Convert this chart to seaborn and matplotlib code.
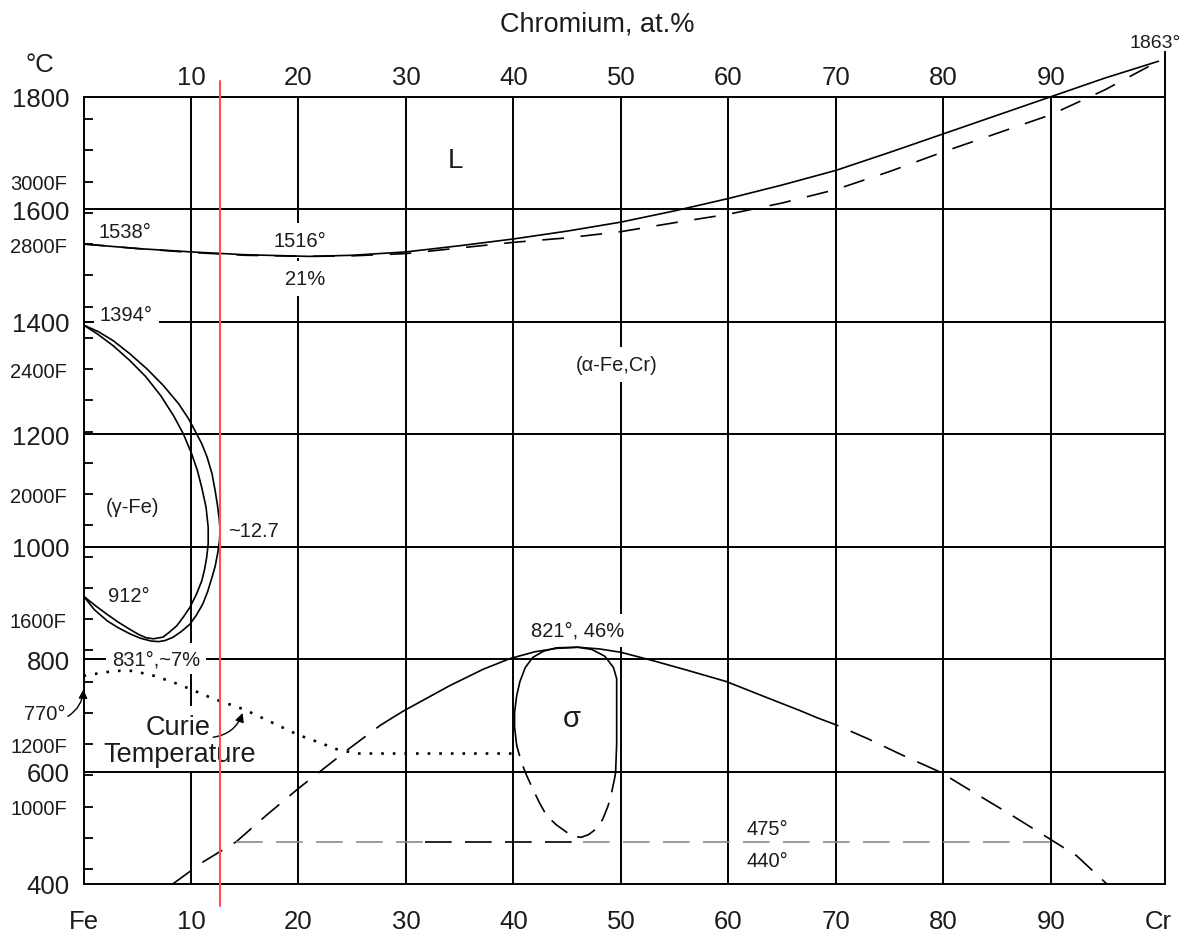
import matplotlib
matplotlib.use("Agg")
import matplotlib.pyplot as plt
import seaborn as sns

# ---------------------------------------------------------------
# Fe–Cr equilibrium diagram: boundary curves as (at.% Cr, °C)
# ---------------------------------------------------------------
liquidus_cr = [0, 5, 10, 15, 21, 25, 30, 35, 40, 45, 50, 55, 60, 65, 70, 75, 80, 85, 90, 95, 100]
liquidus_t = [1538, 1530, 1524, 1519, 1516, 1518, 1524, 1535, 1547, 1561, 1577, 1597, 1619, 1643,
              1669, 1701, 1734, 1767, 1800, 1833, 1863]

solidus_cr = [0, 5, 10, 15, 21, 25, 30, 35, 40, 45, 50, 55, 60, 65, 70, 75, 80, 85, 90, 95, 100]
solidus_t = [1538, 1530, 1523, 1518, 1516, 1517, 1521, 1531, 1541, 1549, 1560, 1576, 1591, 1611,
             1635, 1667, 1702, 1735, 1768, 1812, 1863]

# gamma loop: (gamma+alpha)/alpha boundary and gamma/(gamma+alpha) boundary
loop_outer_cr = [0, 1.4, 2.77, 4.3, 5.9, 7.4, 8.85, 9.75, 10.4, 11.0, 11.5, 11.95, 12.25, 12.45,
                 12.62, 12.7, 12.65, 12.5, 12.25, 11.95, 11.55, 11.1, 10.5, 9.9, 9.1, 8.35, 7.6,
                 7.0, 6.3, 5.3, 4.3, 3.2, 2.2, 1.0, 0]
loop_outer_t = [1394, 1382, 1366, 1343, 1316, 1287, 1254, 1228, 1205, 1183, 1159, 1130, 1099, 1075,
                1050, 1030, 1010, 990, 965, 945, 920, 898, 878, 862, 849, 839, 833,
                831, 832, 837, 845, 856, 868, 888, 912]

loop_inner_cr = [0, 1.3, 2.77, 4.3, 5.8, 7.2, 8.4, 9.3, 10.06, 10.6, 11.0, 11.4, 11.6, 11.6,
                 11.46, 11.27, 11.0, 10.5, 9.9, 9.3, 8.67, 8.0, 7.4, 6.5, 5.8, 5.1, 4.3, 3.2,
                 2.16, 1.1, 0]
loop_inner_t = [1394, 1378, 1357, 1331, 1302, 1268, 1232, 1200, 1165, 1135, 1105, 1070, 1034, 1005,
                981, 960, 939, 915, 892, 875, 859, 848, 839, 836, 838, 844, 853, 866,
                880, 895, 912]

# Curie temperature
curie_cr = [0, 1.5, 3.0, 4.6, 6.6, 8.3, 9.9, 12.0, 15.0, 18.0, 20.0, 22.3, 23.5, 25.4, 30.0, 35.0, 40.5]
curie_t = [770, 775, 779, 779, 770, 759, 747, 730, 710, 683, 665, 649, 640, 632, 632, 632, 632]

# alpha / (alpha + sigma) and alpha + alpha' dome
dome_left_cr = [8.3, 11.1, 14.2, 17.0, 20.0, 22.0, 24.8, 27.6, 28.6]
dome_left_t = [400, 439, 475, 522, 570, 600, 642, 682, 694]
dome_top_cr = [28.6, 29.8, 34.1, 37.2, 39.7, 42.0, 44.0, 46.0, 48.0, 50.0, 53.0, 56.0, 59.8, 63.5, 66.7, 68.2]
dome_top_t = [694, 708, 753, 782, 801, 813, 819, 821, 818, 812, 797, 781, 760, 732, 708, 696]
dome_right_cr = [68.2, 70.0, 73.0, 76.3, 79.7, 82.8, 86.2, 89.9, 92.4, 95.2]
dome_right_t = [696, 683, 658, 628, 599, 563, 524, 480, 450, 400]

# sigma phase field
sigma_solid_cr = [40.3, 40.1, 40.1, 40.3, 40.6, 41.1, 41.8, 42.8, 44.0, 46.0, 47.3, 48.5, 49.3,
                  49.6, 49.6, 49.6, 49.6, 49.5]
sigma_solid_t = [646, 680, 705, 735, 760, 785, 803, 814, 820, 821, 817, 805, 785, 765, 740, 700, 650, 598]
sigma_dash_cr = [49.5, 49.4, 49.1, 48.8, 48.3, 47.7, 47.0, 46.3, 45.5, 44.95, 44.0, 43.1, 42.4,
                 41.8, 41.2, 40.75, 40.3]
sigma_dash_t = [598, 587, 560, 539, 515, 498, 488, 483, 485, 492, 505, 521, 545, 569, 594, 616, 646]

# 475 °C embrittlement isotherm
iso475_t = 475
iso475_cr = [14.2, 90.2]

# marked composition
marker_cr = 12.7

# axes ticks
x_ticks = [0, 10, 20, 30, 40, 50, 60, 70, 80, 90, 100]
x_labels = ["Fe", "10", "20", "30", "40", "50", "60", "70", "80", "90", "Cr"]
c_ticks = [400, 600, 800, 1000, 1200, 1400, 1600, 1800]
f_ticks = list(range(800, 3201, 100))
f_labelled = [1000, 1200, 1600, 2000, 2400, 2800, 3000]

# ---------------------------------------------------------------
sns.set_theme(style="white")
plt.rcParams["font.family"] = ["Liberation Sans", "DejaVu Sans"]

INK = "#1c1c1c"
fig = plt.figure(figsize=(11.87, 9.37), dpi=100)
ax = fig.add_axes([0.070346, 0.05550, 0.91104, 0.88826])
ax.set_xlim(0, 100.6)
ax.set_ylim(400, 1880)

GRID_LW = 1.4
LINE_LW = 1.2

# grid
ax.vlines(x_ticks[1:-1], 400, 1800, color="black", lw=GRID_LW, zorder=1)
ax.hlines(c_ticks[1:], 0, 100.6, color="black", lw=GRID_LW, zorder=1)

for side in ["left", "right", "bottom"]:
    ax.spines[side].set_color("black")
    ax.spines[side].set_linewidth(GRID_LW)
ax.spines["top"].set_visible(False)
ax.spines["left"].set_bounds(400, 1800)


def boundary(xs, ts, ls="-", color="black", lw=LINE_LW, z=3):
    sns.lineplot(x=xs, y=ts, ax=ax, sort=False, estimator=None, color=color,
                 linewidth=lw, linestyle=ls, zorder=z, legend=False)


long_dash = (0, (14, 8))
boundary(liquidus_cr, liquidus_t)
boundary(solidus_cr, solidus_t, ls=(0, (13, 10)))
boundary(loop_outer_cr, loop_outer_t)
boundary(loop_inner_cr, loop_inner_t)
boundary(curie_cr, curie_t, ls=(0, (1, 3.4)), lw=1.9)
boundary(dome_left_cr, dome_left_t, ls=long_dash)
boundary(dome_top_cr, dome_top_t)
boundary(dome_right_cr, dome_right_t, ls=long_dash)
boundary(sigma_solid_cr, sigma_solid_t)
boundary(sigma_dash_cr, sigma_dash_t, ls=(0, (12, 6.5)))

# 475 °C line: grey ends, dark middle
iso_dash = (0, (16, 8))
boundary([iso475_cr[0], 31.8], [iso475_t, iso475_t], ls=iso_dash, color="#8a8a8a")
boundary([31.8, 46.5], [iso475_t, iso475_t], ls=iso_dash, color="black")
boundary([46.5, iso475_cr[1]], [iso475_t, iso475_t], ls=iso_dash, color="#8a8a8a")

# marked composition
ax.plot([marker_cr, marker_cr], [361, 1828], color="#ff4f4f", lw=1.5, zorder=6, clip_on=False)

# ticks and tick labels
ax.set_xticks(x_ticks, x_labels)
ax.tick_params(axis="x", which="major", length=0, pad=18, labelsize=18.5, labelcolor=INK)
ax.set_yticks(c_ticks, [str(v) for v in c_ticks])
ax.tick_params(axis="y", which="major", length=0, pad=10, labelsize=18.5, labelcolor=INK)
f_pos = [(f - 32) * 5 / 9 for f in f_ticks]
ax.set_yticks(f_pos, [f"{f}F" if f in f_labelled else "" for f in f_ticks], minor=True)
ax.tick_params(axis="y", which="minor", left=True, direction="in", length=6.5, width=1.3,
               color="black", pad=12, labelsize=14.5, labelcolor=INK)

# top composition scale
for v in x_ticks[1:-1]:
    ax.text(v, 1822.6, str(v), ha="center", va="baseline", fontsize=18.5, color=INK)
ax.text(47.8, 1917, "Chromium, at.%", ha="center", va="baseline", fontsize=19.5, color=INK)
ax.text(-4.05, 1845.7, "°C", ha="center", va="baseline", fontsize=18.5, color=INK)

white = dict(boxstyle="square,pad=0.3", fc="white", ec="none")
small = 14.5


def label(x, t, s, size=small, ha="center", box=None):
    ax.text(x, t, s, ha=ha, va="baseline", fontsize=size, color=INK, bbox=box, zorder=2)


label(1.35, 1550.5, "1538°", ha="left")
label(20.1, 1535, "1516°", box=dict(boxstyle="square,pad=0.4", fc="white", ec="none"))
label(20.6, 1467, "21%", box=dict(boxstyle="square,pad=0.4", fc="white", ec="none"))
label(1.5, 1403, "1394°", ha="left", box=white)
label(4.56, 1062, "(γ-Fe)")
label(13.44, 1019, "~12.7", ha="left")
label(4.23, 903, "912°")
label(6.74, 791, "831°,~7%", box=white)
label(-3.58, 693, "770°")
label(8.84, 666.7, "Curie", size=19.5, box=white)
label(8.93, 619, "Temperature", size=19.5, box=dict(boxstyle="square,pad=0.15", fc="white", ec="none"))
label(49.6, 1314, "(α-Fe,Cr)", box=dict(boxstyle="square,pad=0.4", fc="white", ec="none"))
label(34.56, 1675, "L", size=20)
label(46.0, 841, "821°, 46%", box=dict(boxstyle="square,pad=0.35", fc="white", ec="none"))
label(45.4, 681, "σ", size=21)
label(63.6, 489, "475°")
label(63.6, 432, "440°")
label(99.7, 1888, "1863°", size=14)

arrow = dict(arrowstyle="-|>", color="black", lw=1.0, mutation_scale=13, shrinkA=0, shrinkB=0)
ax.annotate("", xy=(0.0, 746), xytext=(-1.45, 698),
            arrowprops=dict(arrow, connectionstyle="arc3,rad=0.25"), annotation_clip=False, zorder=4)
ax.annotate("", xy=(14.8, 704), xytext=(12.07, 661),
            arrowprops=dict(arrow, connectionstyle="arc3,rad=0.3"), annotation_clip=False, zorder=4)

fig.savefig("out.png", dpi=100, facecolor="white")
